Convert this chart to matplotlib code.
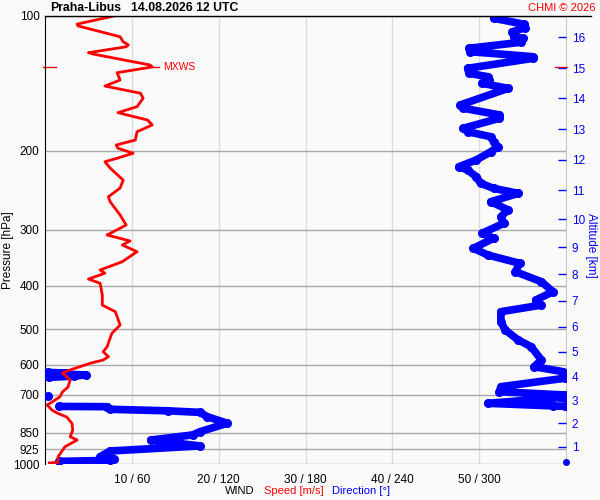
import numpy as np
import matplotlib.pyplot as plt
import matplotlib.transforms as mtransforms
from matplotlib.lines import Line2D
from matplotlib.ticker import FixedLocator, NullLocator, NullFormatter

plt.rcParams['font.family'] = ['Liberation Sans', 'DejaVu Sans']

# pressure levels on the left axis
pres_ticks = [100, 200, 300, 400, 500, 600, 700, 850, 925, 1000]
speed_ticks = [10, 20, 30, 40, 50]
speed_labels = ["10 / 60", "20 / 120", "30 / 180", "40 / 240", "50 / 300"]

# altitude axis (km) and the pressure at which each km sits
alt_km = list(range(1, 17))
alt_pres = [913.6, 810.2, 721.4, 637.9, 561.1, 493.6, 431.8, 377.2,
            328.5, 284.0, 244.7, 209.7, 179.2, 152.8, 131.0, 111.7]
station_pres = 990

mxws_pres = 130.1
mxws_speed = 12.35

# wind speed profile [m/s]
spd_p = [100, 104.4, 105.4, 111.4, 114.3, 116.2, 117.3, 120.9, 121.7, 128.8,
         130.1, 134.0, 139.1, 143.5, 148.9, 152.8, 159.5, 164.5, 170.8, 175.2,
         181.4, 189.3, 194.2, 197.5, 202.6, 207.9, 211.6, 218.6, 232.5, 242.2,
         253.3, 259.8, 278.2, 292.8, 308.2, 317.8, 324.4, 335.8, 353.5, 368.8,
         375.1, 386.3, 394.9, 419.5, 441.6, 456.9, 489.2, 510.5, 547.0, 561.1,
         575.6, 585.5, 595.5, 613.2, 625.9, 648.9, 672.6, 690.0, 707.9, 726.5,
         737.8, 756.8, 768.6, 784.5, 810.2, 838.5, 868.0, 882.8, 913.7, 962.1,
         990, 993]
spd = [8.1, 3.7, 3.8, 8.65, 9.0, 9.6, 9.35, 5.0, 5.5, 12.1,
       12.35, 8.3, 8.65, 6.9, 11.0, 11.3, 10.6, 8.4, 11.8, 12.35,
       10.6, 10.4, 8.2, 8.4, 10.15, 8.3, 6.9, 7.5, 9.0, 8.65,
       7.3, 7.5, 8.65, 9.35, 7.15, 9.8, 8.9, 10.6, 8.9, 6.35,
       6.9, 5.0, 6.35, 6.6, 6.6, 8.1, 8.65, 7.7, 7.15, 6.7,
       7.3, 6.7, 5.2, 3.2, 2.0, 2.9, 2.65, 2.0, 1.7, 0.8,
       0.25, 0.8, 1.4, 2.5, 3.1, 3.2, 2.9, 3.7, 2.3, 1.5,
       1.5, 0.5]

# wind direction profile [deg]
dir_p = [98.3, 101.3, 104.5, 106.3, 108.6, 111.4, 112.3, 114.6, 118.2, 120.3,
         123.4, 124.5, 131.0, 134.4, 136.8, 139.1, 141.5, 145.2, 158.1, 160.8,
         166.4, 169.3, 178.2, 181.4, 186.1, 190.9, 195.9, 201.1, 209.7, 217.1,
         220.8, 228.5, 236.4, 242.6, 248.9, 259.8, 271.0, 280.6, 290.3, 305.5,
         313.4, 330.0, 341.6, 356.4, 372.1, 391.7, 412.4, 430.4, 441.6, 456.9,
         481.0, 501.9, 528.4, 547.0, 585.5, 605.9, 621.7, 624, 626, 628,
         632, 636, 640, 643, 671.4, 688.9, 700.6, 706, 709, 731.2,
         741.0, 742.5, 743, 744, 754, 760, 766, 783, 810, 846,
         860, 883, 910, 934, 962, 975, 980, 985]
wdir = [320, 310, 331, 332, 323, 324, 330, 329, 293, 294,
        337, 337, 292, 293, 306, 307, 302, 320, 287, 289,
        314, 314, 289, 292, 308, 310, 313, 308, 298, 286,
        292, 298, 301, 310, 327, 308, 320, 315, 317, 302,
        310, 296, 306, 328, 325, 343, 351, 339, 343, 315,
        315, 318, 327, 336, 343, 338, 358, 2, 15, 3,
        28, 20, 3, 359, 315, 314, 359, 2, 359, 306,
        351, 359, 10, 43, 45, 85, 107, 112, 126, 107,
        102, 73, 107, 45, 38, 48, 45, 10]

# break the line where direction wraps through north
dx, dy = [], []
for i in range(len(wdir)):
    if i > 0 and abs(wdir[i] - wdir[i - 1]) > 180:
        dx.append(np.nan)
        dy.append(np.nan)
    dx.append(wdir[i] / 6.0)
    dy.append(dir_p[i])

bg = '#fafafa'
blue = '#0000ff'
red = '#ff0000'

fig = plt.figure(figsize=(6, 5), dpi=100, facecolor=bg)
ax = fig.add_axes([45/600, 1-464.3/500, 521/600, 448.6/500])
ax.set_facecolor(bg)

ax.plot(dx, dy, color=blue, lw=5.5, marker='o', ms=5.5,
        solid_capstyle='round', solid_joinstyle='round', zorder=3)
ax.plot(spd, spd_p, color=red, lw=2, zorder=4)

ax.set_yscale('log')
ax.set_ylim(1000, 100)
ax.set_xlim(0, 60)
ax.yaxis.set_major_locator(FixedLocator(pres_ticks))
ax.yaxis.set_minor_locator(NullLocator())
ax.yaxis.set_minor_formatter(NullFormatter())
ax.set_yticklabels([str(p) for p in pres_ticks])
ax.set_xticks(speed_ticks)
ax.set_xticklabels(speed_labels)
ax.tick_params(axis='y', length=0, pad=4, labelsize=8.5)
ax.tick_params(axis='x', length=0, pad=7, labelsize=8.5)
ax.yaxis.grid(True, color='#a8a8a8', lw=1)
ax.xaxis.grid(True, color='#dcdcdc', lw=1)
ax.set_axisbelow(True)

for s in ['top', 'bottom']:
    ax.spines[s].set_visible(False)
ax.spines['left'].set_color('black')
ax.spines['right'].set_color('#c8c8c8')

# altitude axis
ax2 = ax.twinx()
ax2.set_yscale('log')
ax2.set_ylim(1000, 100)
ax2.yaxis.set_major_locator(FixedLocator(alt_pres))
ax2.yaxis.set_minor_locator(NullLocator())
ax2.yaxis.set_minor_formatter(NullFormatter())
ax2.set_yticklabels([str(k) for k in alt_km])
ax2.tick_params(axis='y', direction='in', length=6, width=1, colors=blue,
                labelcolor=blue, pad=4, labelsize=8.5)
for s in ax2.spines.values():
    s.set_visible(False)

trans = mtransforms.blended_transform_factory(ax.transAxes, ax.transData)
ax.plot([1.0], [station_pres], 'o', color=blue, ms=4, transform=trans,
        clip_on=False, zorder=5)

# max wind marker
ax.plot([-0.004, 0.021], [mxws_pres, mxws_pres], color=red, lw=1,
        transform=trans, clip_on=False)
ax.plot([0.979, 1.002], [mxws_pres, mxws_pres], color=red, lw=1,
        transform=trans, clip_on=False, zorder=6)
ax.plot([mxws_speed, mxws_speed + 0.8], [mxws_pres, mxws_pres], color=red, lw=1)
ax.text(mxws_speed + 1.3, mxws_pres, 'MXWS', color=red, fontsize=7.5,
        va='center', ha='left')

fig.add_artist(Line2D([45/600, 591/600], [1-15.7/500, 1-15.7/500],
                      color='black', lw=1))

fig.text(50/600, 1-8/500, 'Praha-Libus', fontsize=8.8, fontweight='bold',
         va='center', ha='left')
fig.text(131/600, 1-8/500, '14.08.2026 12 UTC', fontsize=8.8,
         fontweight='bold', va='center', ha='left')
fig.text(596/600, 1-8/500, 'CHMI © 2026', fontsize=8, color=red,
         va='center', ha='right')

fig.text(8/600, 0.5, 'Pressure [hPa]', rotation=90, fontsize=8.5,
         va='center', ha='center')
fig.text(591/600, 1-245/500, 'Altitude [km]', rotation=270, fontsize=8.5,
         color=blue, va='center', ha='center')

fig.text(225/600, 1-491/500, 'WIND', fontsize=8, va='center', ha='left')
fig.text(264/600, 1-491/500, 'Speed [m/s]', fontsize=8, color=red,
         va='center', ha='left')
fig.text(332/600, 1-491/500, 'Direction [°]', fontsize=8, color=blue,
         va='center', ha='left')

fig.savefig('out.png', dpi=100, facecolor=bg)
